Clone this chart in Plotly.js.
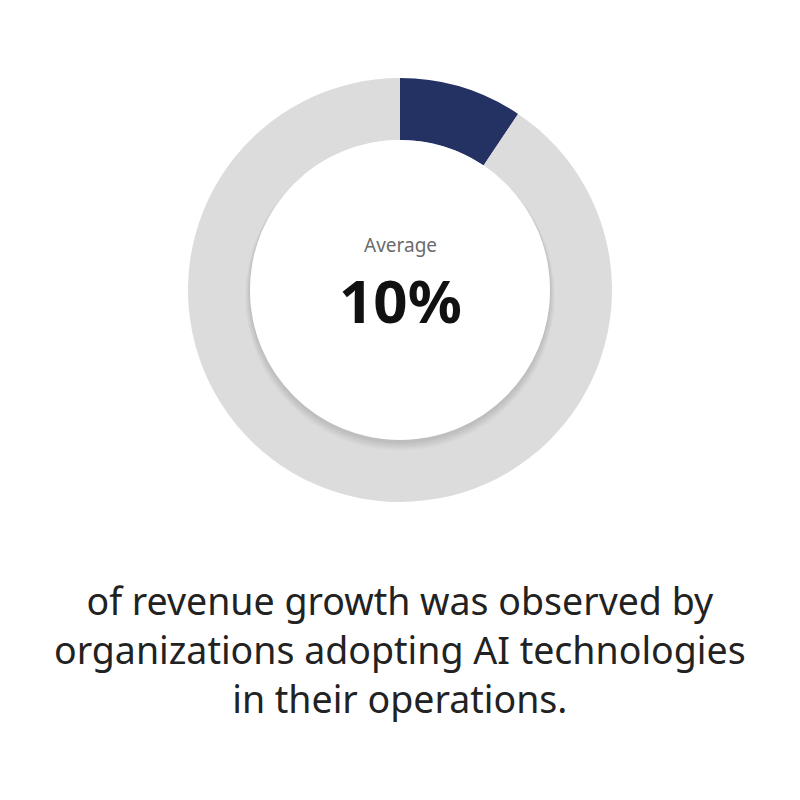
<!DOCTYPE html>
<html><head><meta charset="utf-8">
<script src="https://cdn.plot.ly/plotly-3.0.1.min.js"></script>
<style>html,body{margin:0;padding:0;background:#fff}#chart{width:800px;height:800px}</style>
</head><body><div id="chart"></div>
<script>
const labels = ["AI revenue growth", "Remainder"];
const values = [9.4, 90.6];
const colors = ["#233163", "#dcdcdc"];
const centerLabel = "Average";
const centerValue = "10%";
const caption = ["of revenue growth was observed by", "organizations adopting AI technologies", "in their operations."];

const W = 800, H = 800;
const cx = 400, cy = 290, rOut = 212, rIn = 150;
const px = x => x / W, py = y => 1 - y / H;
const FONT = "'Noto Sans', 'Open Sans', sans-serif";

const shapes = [];
// soft drop shadow of the centre disk
for (let i = 10; i >= 1; i--) {
  shapes.push({type: "circle", xref: "paper", yref: "paper", layer: "above",
    x0: px(cx - rIn - i * 0.5), x1: px(cx + rIn + i * 0.5),
    y0: py(cy - rIn + 1), y1: py(cy + rIn + 2 + i * 0.9),
    fillcolor: "rgba(0,0,0,0.012)", line: {width: 0}});
}
shapes.push({type: "circle", xref: "paper", yref: "paper", layer: "above",
  x0: px(cx - rIn), x1: px(cx + rIn), y0: py(cy - rIn), y1: py(cy + rIn),
  fillcolor: "#ffffff", line: {width: 0}});

const annotations = [
  {text: centerLabel, x: 0.5, y: py(245), xref: "paper", yref: "paper", showarrow: false,
   xanchor: "center", yanchor: "middle",
   font: {family: FONT, size: 19, color: "#6b6b6b"}},
  {text: "<b>" + centerValue + "</b>", x: 0.5, y: py(300), xref: "paper", yref: "paper", showarrow: false,
   xanchor: "center", yanchor: "middle",
   font: {family: FONT, size: 60, color: "#111111"}},
  {text: caption.join("<br>"), x: 0.5, y: py(649), xref: "paper", yref: "paper",
   showarrow: false, xanchor: "center", yanchor: "middle", align: "center",
   font: {family: FONT, size: 37.5, color: "#222222"}}
];

Plotly.newPlot("chart", [{
  type: "pie", labels: labels, values: values, hole: rIn / rOut, sort: false,
  direction: "clockwise", rotation: 0, textinfo: "none", hoverinfo: "none",
  marker: {colors: colors, line: {width: 0}},
  domain: {x: [px(cx - rOut), px(cx + rOut)], y: [py(cy + rOut), py(cy - rOut)]}
}], {
  width: W, height: H, margin: {l: 0, r: 0, t: 0, b: 0},
  showlegend: false, paper_bgcolor: "#fff", plot_bgcolor: "#fff",
  shapes: shapes, annotations: annotations
}, {displayModeBar: false, staticPlot: true});
</script></body></html>
